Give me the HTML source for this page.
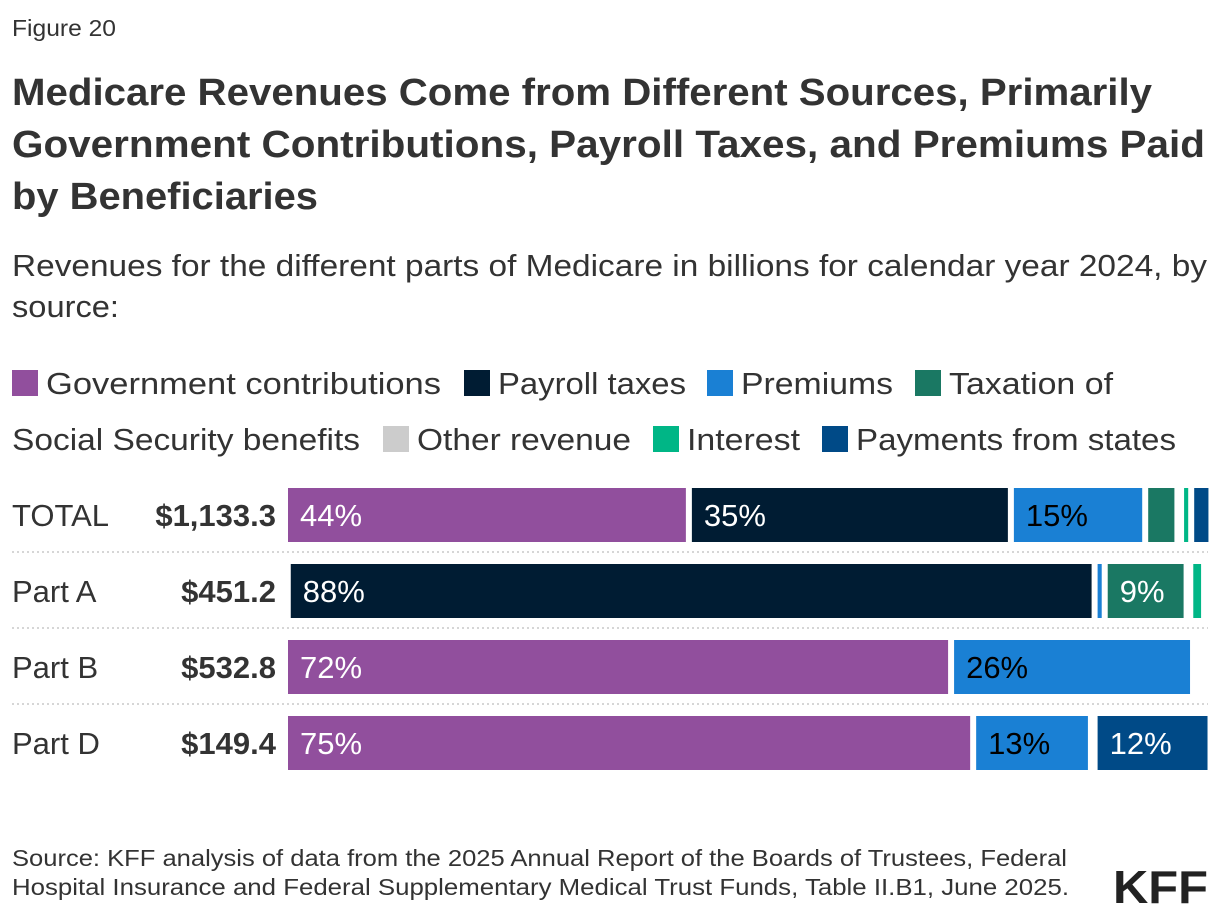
<!DOCTYPE html>
<html><head><meta charset="utf-8"><style>
html,body{margin:0;padding:0;background:#fff;}
svg{display:block;font-family:"Liberation Sans",sans-serif;}
</style></head><body>
<svg id="chart" width="1220" height="920" viewBox="0 0 1220 920">
<text x="12" y="36" font-size="23" fill="#333" textLength="104" lengthAdjust="spacingAndGlyphs">Figure 20</text>
<g font-weight="bold" font-size="38" fill="#333">
<text x="12" y="105" textLength="1140" lengthAdjust="spacingAndGlyphs">Medicare Revenues Come from Different Sources, Primarily</text>
<text x="12" y="157" textLength="1193" lengthAdjust="spacingAndGlyphs">Government Contributions, Payroll Taxes, and Premiums Paid</text>
<text x="12" y="209" textLength="306" lengthAdjust="spacingAndGlyphs">by Beneficiaries</text>
</g>
<g font-size="31" fill="#333">
<text x="12" y="276" textLength="1195" lengthAdjust="spacingAndGlyphs">Revenues for the different parts of Medicare in billions for calendar year 2024, by</text>
<text x="12" y="317" textLength="107" lengthAdjust="spacingAndGlyphs">source:</text>
</g>
<g id="legend" font-size="31" fill="#333"></g>
<g id="rows"></g>
<g font-size="23" fill="#333">
<text x="12" y="866" textLength="1055" lengthAdjust="spacingAndGlyphs">Source: KFF analysis of data from the 2025 Annual Report of the Boards of Trustees, Federal</text>
<text x="12" y="895" textLength="1057" lengthAdjust="spacingAndGlyphs">Hospital Insurance and Federal Supplementary Medical Trust Funds, Table II.B1, June 2025.</text>
</g>
<text x="1113" y="903" font-size="46" font-weight="bold" fill="#222" textLength="95" lengthAdjust="spacingAndGlyphs">KFF</text>
</svg>
<script>
const seriesNames = ["Government contributions","Payroll taxes","Premiums","Taxation of Social Security benefits","Other revenue","Interest","Payments from states"];
const seriesColors = ["#914f9d","#001c33","#1a80d4","#1a7863","#cccccc","#00b686","#004a87"];
const labelColors = ["#fff","#fff","#000","#fff","#000","#000","#fff"];
const categories = ["TOTAL","Part A","Part B","Part D"];
const totals = ["$1,133.3","$451.2","$532.8","$149.4"];
const totalShares = [43.9,35.0,14.6,3.5,0.4,1.1,2.2];
const partAShares = [0.3,87.7,1.1,8.9,0.4,1.5,0];
const partBShares = [72.4,0,26.3,0,0,0,0];
const partDShares = [74.8,0,12.8,0,0.4,0,12.6];
const shownLabels = [["44%","35%","15%","","","",""],["","88%","","9%","","",""],["72%","","26%","","","",""],["75%","","13%","","","","12%"]];
const allShares = [totalShares,partAShares,partBShares,partDShares];

const NS="http://www.w3.org/2000/svg";
function mk(tag,attrs,parent){const e=document.createElementNS(NS,tag);for(const k in attrs)e.setAttribute(k,attrs[k]);parent.appendChild(e);return e;}
const X0=288, W=920, GAP=6, ROW0=488, PITCH=76, BH=54;
const xScale=v=>v/100*W;
const yScale=i=>ROW0+i*PITCH;

const legend=document.getElementById('legend');
const legPos=[[12,370,395,"Government contributions"],[464,370,188,"Payroll taxes"],[707,370,152,"Premiums"],[915,370,164,"Taxation of"],[383,426,214,"Other revenue"],[653,426,113,"Interest"],[822,426,320,"Payments from states"]];
legPos.forEach((p,i)=>{
  const r=mk('rect',{x:p[0],y:p[1],width:26,height:26,fill:seriesColors[i]},legend);
  
  
  const t=mk('text',{x:p[0]+34,y:p[1]+24,textLength:p[2],lengthAdjust:'spacingAndGlyphs'},legend);
  t.textContent=p[3];
  
  
});
const t2=mk('text',{x:12,y:450,textLength:348,lengthAdjust:'spacingAndGlyphs'},legend);
t2.textContent="Social Security benefits";



const rows=document.getElementById('rows');
categories.forEach((c,i)=>{
  const y=yScale(i);
  const g=mk('g',{},rows);
  
  
  const lab=mk('text',{x:12,y:y+38,'font-size':31,fill:'#333'},g);
  lab.textContent=c;
  
  
  const tot=mk('text',{x:276,y:y+38,'font-size':31,'font-weight':'bold',fill:'#333','text-anchor':'end'},g);
  tot.textContent=totals[i];
  
  
  let acc=0;
  allShares[i].forEach((v,s)=>{
    const x=X0+xScale(acc); const w=xScale(v)-GAP; acc+=v;
    if(w<=0) return;
    const r=mk('rect',{x:x,y:y,width:w,height:BH,fill:seriesColors[s]},g);
    
    
    const L=shownLabels[i][s];
    if(L){const t=mk('text',{x:x+12,y:y+38,'font-size':31,fill:labelColors[s]},g);t.textContent=L;
      
      }
  });
  if(i<categories.length-1){
    const l=mk('line',{x1:12,x2:1208,y1:y+BH+10,y2:y+BH+10,stroke:'#d6d6d6','stroke-width':2,'stroke-dasharray':'2,3'},g);
    
    
  }
});
</script>
</body></html>
